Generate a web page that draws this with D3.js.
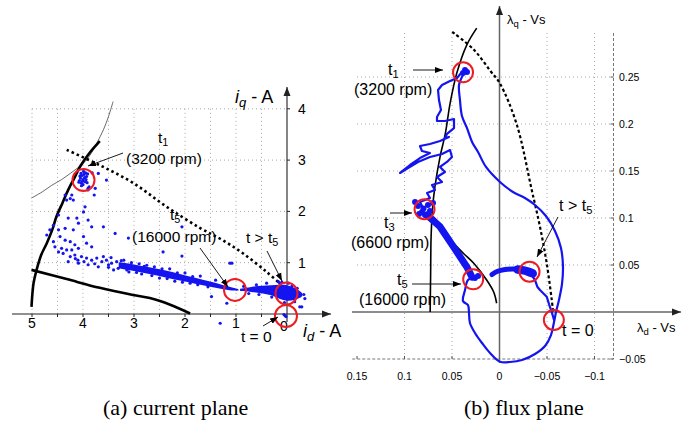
<!DOCTYPE html>
<html><head><meta charset="utf-8">
<script src="https://cdn.jsdelivr.net/npm/d3@7"></script>
<style>body{margin:0;background:#fff;} svg{display:block;font-family:"Liberation Sans",Arial,sans-serif;}</style>
</head><body><svg id="c" width="697" height="426"></svg>
<script>
// ---------------- DATA: (a) current plane ----------------
const idTicks = [5,4,3,2,1,0];
const iqTicks = [1,2,3,4];
const idGrid = [5,4.5,4,3.5,3,2.5,2,1.5,1,0.5];
// voltage limit (thick black)
const voltageL = [[5.01,0.14],[4.97,0.60],[4.91,0.86],[4.82,1.15],[4.71,1.38],[4.60,1.65],[4.52,1.90],[4.40,2.17],[4.29,2.42],[4.17,2.65],[4.06,2.87],[3.88,3.13],[3.67,3.37]];
// constant torque hyperbola (thin)
const torqueL = [[5.01,2.26],[4.80,2.38],[4.61,2.51],[4.42,2.62],[4.25,2.74],[4.10,2.85],[3.96,2.97],[3.84,3.13],[3.73,3.33],[3.60,3.59],[3.50,3.85],[3.41,4.14]];
// lower thick line
const lowerL = [[5.01,0.86],[4.32,0.68],[3.67,0.51],[3.02,0.37],[2.69,0.31],[2.29,0.18],[1.90,0.01]];
// dotted curve
const dottedL = [[4.32,3.20],[3.67,2.90],[3.01,2.55],[2.36,2.09],[1.71,1.68],[1.28,1.45],[0.86,1.18],[0.40,0.82],[0.12,0.58]];
// dense measured bands [id, iqLow, iqHigh]
const bandA = [[3.30,0.89,1.01],[3.00,0.84,0.97],[2.70,0.78,0.91],[2.40,0.72,0.86],[2.10,0.65,0.78],[1.80,0.59,0.71],[1.50,0.53,0.63],[1.25,0.48,0.56],[1.00,0.45,0.50],[0.95,0.46,0.48]];
const bandB = [[0.92,0.45,0.49],[0.70,0.43,0.53],[0.50,0.41,0.55],[0.30,0.37,0.56],[0.15,0.29,0.57],[0.00,0.25,0.57],[-0.15,0.27,0.51],[-0.25,0.31,0.45],[-0.30,0.35,0.40]];
// scattered measured points [id, iq]
const pointsL = [
 [4.02,2.70],[3.98,2.72],[3.95,2.75],[4.05,2.65],[4.00,2.62],[3.96,2.58],[4.03,2.55],[4.07,2.60],[3.93,2.68],[4.00,2.52],
 [3.97,2.66],[4.04,2.74],[3.91,2.73],[4.08,2.57],[3.99,2.78],[3.94,2.62],[4.01,2.59],[4.06,2.69],[3.92,2.56],[4.03,2.50],
 [3.82,2.75],[3.70,2.74],[3.54,2.61],[3.76,2.45],[3.90,2.45],[3.88,2.48],[3.78,2.32],[3.90,2.42],
 [4.35,2.32],[4.25,2.25],[4.19,2.22],[4.32,2.22],[4.22,2.32],[3.99,1.99],[3.96,2.09],[4.48,1.93],[4.29,1.87],[4.12,1.87],
 [4.09,1.77],[3.90,1.83],[3.83,1.70],[3.60,1.70],[4.58,1.73],[4.65,1.64],[4.48,1.64],[4.35,1.67],[4.19,1.64],[4.71,1.54],
 [4.45,1.51],[4.35,1.44],[4.25,1.41],[4.16,1.35],[3.99,1.51],[3.93,1.38],[3.83,1.31],[4.58,1.41],[4.55,1.31],[4.42,1.28],
 [4.32,1.25],[4.22,1.25],[4.09,1.28],[4.48,1.21],[4.39,1.18],[4.25,1.12],[4.16,1.15],[4.03,1.12],[3.93,1.09],[3.83,1.05],
 [3.73,1.09],[3.63,1.02],[3.54,1.05],[3.44,0.99],[3.34,1.02],[3.24,0.96],[4.29,1.02],[4.09,0.99],[3.90,0.96],[3.70,0.92],
 [3.50,0.91],[3.31,0.89],[3.14,0.86],[3.37,1.57],[3.11,1.48],[2.43,1.21],[2.06,1.70],[1.48,0.34],[1.18,0.21],[1.12,0.99],
 [1.31,-0.18],[-0.25,0.14],[-0.29,0.14],[-0.03,0.60],[0.17,0.63],[0.14,0.60],[2.06,1.13],[1.08,0.99],
 [3.60,1.12],[3.45,1.10],[3.20,1.05],[3.05,1.00],[2.90,0.98],[2.75,0.95],[2.85,0.78],[2.60,0.92],[2.50,0.70],[2.30,0.88],
 [2.20,0.64],[2.00,0.80],[1.90,0.60],[1.70,0.74],[1.55,0.53],[1.40,0.66],[3.40,0.86],[3.10,0.82],[3.50,0.96],[4.10,1.05],
 [3.98,1.02],[3.77,0.98],[0.85,0.54],[0.60,0.57],[0.40,0.60],[0.30,0.33],[0.55,0.38],[0.75,0.40],[0.10,0.62],[-0.10,0.55],
 [-0.20,0.50],[-0.33,0.38],[-0.35,0.30],[0.05,0.22],[-0.15,0.24],[4.15,1.08],[0.04,-0.03],[0.02,-0.05],[0.06,-0.01],
 [3.25,1.04],[2.95,0.81],[2.65,0.75],[2.35,0.69],[2.05,0.62],[1.75,0.57],[2.80,0.93],[2.45,0.88],[2.15,0.80],[1.85,0.73]
];
const circlesL = [[3.99,2.61],[1.02,0.47],[0.01,0.40],[0.02,-0.04]];

// ---------------- DATA: (b) flux plane ----------------
const ldTicks = [0.15,0.1,0.05,0,-0.05,-0.1];
const ldLabels = ["0.15","0.1","0.05","0","\u22120.05","\u22120.1"];
const lqTicks = [0.25,0.2,0.15,0.1,0.05,-0.05];
const lqLabels = ["0.25","0.2","0.15","0.1","0.05","\u22120.05"];
const ldGrid = [0.1,0.05,-0.05,-0.1];
const lqGrid = [0.25,0.2,0.15,0.1,0.05];
const voltageR = [[0.0730,0.000],[0.0725,0.040],[0.0720,0.080],[0.0705,0.110],[0.0680,0.133],[0.0626,0.165],[0.0570,0.190],[0.0520,0.222],[0.0450,0.254],[0.0345,0.284],[0.0240,0.302]];
const mtpaR = [[0.0697,0.1014],[0.0600,0.0900],[0.0481,0.0731],[0.0376,0.0620],[0.0271,0.0518],[0.0135,0.0340],[0.0060,0.0210],[0.0030,0.0093]];
const dottedR = [[0.0498,0.298],[0.027,0.279],[0.010,0.257],[-0.0005,0.243],[-0.018,0.200],[-0.0339,0.130],[-0.0426,0.0907],[-0.0497,0.0518],[-0.055,0.0128],[-0.0566,-0.0014]];
// measured flux trajectory, pieces
const fluxOuter = [[0.0384,0.2521],[0.0426,0.2415],[0.0416,0.2255],[0.0395,0.2085],[0.0342,0.1957],[0.0289,0.1809],[0.0226,0.1702],[0.0142,0.1543],[-0.0005,0.1383],[-0.0142,0.1277],[-0.0268,0.1213],[-0.0374,0.1138],[-0.0489,0.1021],[-0.0584,0.0862],[-0.0647,0.0681],[-0.0668,0.0489],[-0.0658,0.0298],[-0.0626,0.0128],[-0.0595,0.0000],[-0.0574,-0.0106],[-0.0542,-0.0245],[-0.0479,-0.0362],[-0.0374,-0.0447],[-0.0237,-0.0511],[-0.0111,-0.0532],[-0.0005,-0.0529],[0.0100,-0.0436],[0.0184,-0.0330],[0.0258,-0.0223],[0.0311,-0.0117],[0.0321,-0.0011],[0.0332,0.0074],[0.0384,0.0117],[0.0363,0.0234],[0.0332,0.0340],[0.0268,0.0372]];
const fluxRight = [[-0.0574,-0.0085],[-0.0549,0.0003],[-0.0524,0.0074],[-0.0497,0.0163],[-0.0426,0.0234],[-0.0398,0.0269],[-0.0374,0.0340],[-0.0332,0.0404]];
const fluxArc = [[-0.0340,0.0412],[-0.0258,0.0441],[-0.0163,0.0457],[-0.0058,0.0452],[0.0026,0.0431],[0.0079,0.0399]];
const fluxArcDense = [[-0.0350,0.0410],[-0.0300,0.0430],[-0.0240,0.0445],[-0.0190,0.0452]];
const fluxBand = [[0.0289,0.0372],[0.0345,0.0482],[0.0486,0.0695],[0.0626,0.0907],[0.0766,0.1032]];
const fluxZig = [[0.0395,0.2553],[0.0447,0.2489],[0.0521,0.2457],[0.0605,0.2415],[0.0647,0.2362],[0.0637,0.2255],[0.0616,0.2149],[0.0658,0.2074],[0.0658,0.2032],[0.0574,0.2032],[0.0479,0.2053],[0.0479,0.1957],[0.0553,0.1894],[0.0574,0.1851],[0.0532,0.1862],[0.0626,0.1819],[0.0732,0.1787],[0.0837,0.1766],[0.0816,0.1713],[0.0732,0.1691],[0.0837,0.1638],[0.0942,0.1564],[0.1047,0.1479],[0.0963,0.1532],[0.0858,0.1596],[0.0732,0.1649],[0.0605,0.1681],[0.0521,0.1723],[0.0500,0.1649],[0.0553,0.1596],[0.0626,0.1543],[0.0574,0.1489],[0.0658,0.1436],[0.0605,0.1383],[0.0711,0.1351],[0.0679,0.1298],[0.0763,0.1266],[0.0732,0.1213],[0.0837,0.1170],[0.0805,0.1106]];
const fluxBlobs = [[0.0858,0.1128],[0.0753,0.1138],[0.0816,0.1064],[0.0732,0.1074],[0.0889,0.1170],[0.0700,0.1160],[0.0784,0.1032],[0.0847,0.1043],[0.0800,0.1100],[0.0363,0.2574],[0.0342,0.2553],[0.0384,0.2543],[0.0258,0.0362],[0.0226,0.0383]];
const circlesR = [[0.0384,0.255],[0.0789,0.1093],[0.0277,0.0348],[-0.0316,0.0429],[-0.0572,-0.0085]];

// ---------------- DRAW ----------------
const svg = d3.select("#c");
const BLUE = "#1414f0", RED = "#ec1c24", GRID = "#a8a8a8";
const defs = svg.append("defs");
defs.append("marker").attr("id","ah").attr("viewBox","0 -4 8 8").attr("refX",8).attr("refY",0)
  .attr("markerWidth",8).attr("markerHeight",8).attr("markerUnits","userSpaceOnUse").attr("orient","auto")
  .append("path").attr("d","M0,-3L8,0L0,3Z").attr("fill","#000");
defs.append("marker").attr("id","axh").attr("viewBox","0 -4 9 8").attr("refX",9).attr("refY",0)
  .attr("markerWidth",9).attr("markerHeight",8).attr("markerUnits","userSpaceOnUse").attr("orient","auto")
  .append("path").attr("d","M0,-3.5L9,0L0,3.5Z").attr("fill","#222");

// ---- left panel ----
const xL = d3.scaleLinear().domain([5,0]).range([32,287]);
const yL = d3.scaleLinear().domain([0,4]).range([314,108.8]);
const gL = svg.append("g");
gL.selectAll(".vg").data(idGrid).join("line").attr("x1",d=>xL(d)).attr("x2",d=>xL(d)).attr("y1",yL(4)).attr("y2",yL(0))
  .attr("stroke",GRID).attr("stroke-width",1).attr("stroke-dasharray","1,3");
gL.selectAll(".hg").data(iqTicks).join("line").attr("x1",xL(5)).attr("x2",xL(0)).attr("y1",d=>yL(d)).attr("y2",d=>yL(d))
  .attr("stroke",GRID).attr("stroke-width",1).attr("stroke-dasharray","1,3");
// axes
gL.append("line").attr("x1",12).attr("x2",331).attr("y1",yL(0)).attr("y2",yL(0)).attr("stroke","#222").attr("stroke-width",1.1).attr("marker-end","url(#axh)");
gL.append("line").attr("x1",xL(0)).attr("x2",xL(0)).attr("y1",322).attr("y2",87).attr("stroke","#222").attr("stroke-width",1.1).attr("marker-end","url(#axh)");
gL.selectAll(".xt").data(idGrid).join("line").attr("x1",d=>xL(d)).attr("x2",d=>xL(d)).attr("y1",yL(0)).attr("y2",yL(0)+3).attr("stroke","#222");
gL.selectAll(".yt").data(iqTicks).join("line").attr("x1",xL(0)).attr("x2",xL(0)+3).attr("y1",d=>yL(d)).attr("y2",d=>yL(d)).attr("stroke","#222");
gL.selectAll(".xl").data(idTicks).join("text").attr("x",d=>xL(d)-(d===0?3:0)).attr("y",d=>d===0?331:328)
  .attr("text-anchor","middle").attr("font-size",14).text(d=>d);
gL.selectAll(".yl").data(iqTicks).join("text").attr("x",xL(0)+15).attr("y",d=>yL(d)+5)
  .attr("text-anchor","middle").attr("font-size",14).text(d=>d);
// axis labels
let t = gL.append("text").attr("x",235).attr("y",103).attr("font-size",18);
t.append("tspan").attr("font-style","italic").text("i");
t.append("tspan").attr("font-style","italic").attr("font-size",13).attr("dy",4).text("q");
t.append("tspan").attr("dy",-4).text(" - A");
t = gL.append("text").attr("x",303).attr("y",337).attr("font-size",18);
t.append("tspan").attr("font-style","italic").text("i");
t.append("tspan").attr("font-style","italic").attr("font-size",13).attr("dy",4).text("d");
t.append("tspan").attr("dy",-4).text(" - A");

const lineL = d3.line().x(d=>xL(d[0])).y(d=>yL(d[1])).curve(d3.curveCatmullRom);
gL.append("path").attr("d",lineL(torqueL)).attr("fill","none").attr("stroke","#444").attr("stroke-width",0.8);
gL.append("path").attr("d",lineL(voltageL)).attr("fill","none").attr("stroke","#000").attr("stroke-width",2.6);
gL.append("path").attr("d",lineL(lowerL)).attr("fill","none").attr("stroke","#000").attr("stroke-width",2.6);
gL.append("path").attr("d",lineL(dottedL)).attr("fill","none").attr("stroke","#000").attr("stroke-width",2.6).attr("stroke-dasharray","2.5,3");
const areaL = d3.area().x(d=>xL(d[0])).y0(d=>yL(d[1])).y1(d=>yL(d[2])).curve(d3.curveBasis);
gL.append("path").attr("d",areaL(bandA)).attr("fill",BLUE);
gL.append("path").attr("d",areaL(bandB)).attr("fill",BLUE);
gL.selectAll(".pt").data(pointsL).join("circle").attr("cx",d=>xL(d[0])).attr("cy",d=>yL(d[1])).attr("r",1.6).attr("fill",BLUE);
gL.selectAll(".rc").data(circlesL).join("circle").attr("cx",d=>xL(d[0])).attr("cy",d=>yL(d[1])).attr("r",11)
  .attr("fill","none").attr("stroke",RED).attr("stroke-width",2);

// ---- right panel ----
const xR = d3.scaleLinear().domain([0.15,-0.12]).range([357,613.5]);
const yR = d3.scaleLinear().domain([-0.05,0.3]).range([359,30]);
const gR = svg.append("g");
gR.selectAll(".vg").data(ldGrid).join("line").attr("x1",d=>xR(d)).attr("x2",d=>xR(d)).attr("y1",33).attr("y2",yR(-0.05))
  .attr("stroke",GRID).attr("stroke-dasharray","1,3");
gR.selectAll(".hg").data(lqGrid).join("line").attr("x1",xR(0.15)).attr("x2",xR(-0.12)).attr("y1",d=>yR(d)).attr("y2",d=>yR(d))
  .attr("stroke",GRID).attr("stroke-dasharray","1,3");
gR.append("line").attr("x1",xR(-0.12)).attr("x2",xR(-0.12)).attr("y1",33).attr("y2",yR(-0.05)).attr("stroke","#777").attr("stroke-dasharray","3,2");
gR.append("line").attr("x1",xR(0.155)).attr("x2",xR(-0.12)).attr("y1",yR(-0.05)).attr("y2",yR(-0.05)).attr("stroke","#777").attr("stroke-dasharray","3,2");
gR.selectAll(".bt").data(ldTicks).join("line").attr("x1",d=>xR(d)).attr("x2",d=>xR(d)).attr("y1",yR(-0.05)).attr("y2",yR(-0.05)-3).attr("stroke","#555");
gR.selectAll(".rt").data(lqTicks).join("line").attr("x1",xR(-0.12)).attr("x2",xR(-0.12)-3).attr("y1",d=>yR(d)).attr("y2",d=>yR(d)).attr("stroke","#555");
gR.selectAll(".bl").data(ldTicks).join("text").attr("x",d=>xR(d)).attr("y",380).attr("text-anchor","middle").attr("font-size",10.5)
  .text((d,i)=>ldLabels[i]);
gR.selectAll(".rl").data(lqTicks).join("text").attr("x",619).attr("y",d=>yR(d)+4).attr("font-size",10.5).text((d,i)=>lqLabels[i]);
// axes
gR.append("line").attr("x1",352).attr("x2",681).attr("y1",yR(0)).attr("y2",yR(0)).attr("stroke","#666").attr("stroke-width",1.5).attr("marker-end","url(#axh)");
gR.append("line").attr("x1",xR(0)).attr("x2",xR(0)).attr("y1",yR(-0.054)).attr("y2",6).attr("stroke","#666").attr("stroke-width",1.5).attr("marker-end","url(#axh)");
t = gR.append("text").attr("x",507).attr("y",24).attr("font-size",13);
t.append("tspan").text("\u03bb");
t.append("tspan").attr("font-size",9.5).attr("dy",3).text("q");
t.append("tspan").attr("dy",-3).text(" - Vs");
t = gR.append("text").attr("x",637).attr("y",332).attr("font-size",13);
t.append("tspan").text("\u03bb");
t.append("tspan").attr("font-size",9.5).attr("dy",3).text("d");
t.append("tspan").attr("dy",-3).text(" - Vs");

const lineRc = d3.line().x(d=>xR(d[0])).y(d=>yR(d[1])).curve(d3.curveCatmullRom);
const lineR = d3.line().x(d=>xR(d[0])).y(d=>yR(d[1]));
gR.append("path").attr("d",lineRc(voltageR)).attr("fill","none").attr("stroke","#000").attr("stroke-width",1.6);
gR.append("path").attr("d",lineRc(mtpaR)).attr("fill","none").attr("stroke","#000").attr("stroke-width",1.6);
gR.append("path").attr("d",lineRc(dottedR)).attr("fill","none").attr("stroke","#000").attr("stroke-width",2.2).attr("stroke-dasharray","3,2.5");
const blueStyle = p => p.attr("fill","none").attr("stroke",BLUE).attr("stroke-linejoin","round").attr("stroke-linecap","round");
blueStyle(gR.append("path").attr("d",lineRc(fluxOuter))).attr("stroke-width",2.2);
blueStyle(gR.append("path").attr("d",lineR(fluxRight))).attr("stroke-width",2.2);
blueStyle(gR.append("path").attr("d",lineRc(fluxArc))).attr("stroke-width",5);
blueStyle(gR.append("path").attr("d",lineRc(fluxArcDense))).attr("stroke-width",8.5);
blueStyle(gR.append("path").attr("d",lineR(fluxBand))).attr("stroke-width",7);
blueStyle(gR.append("path").attr("d",lineR(fluxZig))).attr("stroke-width",2.2);
gR.selectAll(".bb").data(fluxBlobs).join("circle").attr("cx",d=>xR(d[0])).attr("cy",d=>yR(d[1])).attr("r",3).attr("fill",BLUE);
gR.selectAll(".rc").data(circlesR).join("circle").attr("cx",d=>xR(d[0])).attr("cy",d=>yR(d[1])).attr("r",10)
  .attr("fill","none").attr("stroke",RED).attr("stroke-width",2);

// ---- annotations ----
function label(g, x, y, main, sub, fs){
  const tx = g.append("text").attr("x",x).attr("y",y).attr("font-size",fs);
  tx.append("tspan").text(main);
  if(sub){ tx.append("tspan").attr("font-size",fs*0.7).attr("dy",fs*0.2).text(sub); }
  return tx;
}
function arrow(x1,y1,x2,y2){
  svg.append("line").attr("x1",x1).attr("y1",y1).attr("x2",x2).attr("y2",y2).attr("stroke","#000").attr("stroke-width",0.9).attr("marker-end","url(#ah)");
}
// left
label(svg,158,143,"t","1",15.5);
svg.append("text").attr("x",126).attr("y",164).attr("font-size",15.5).text("(3200 rpm)");
arrow(123,153,88,166);
label(svg,170,220,"t","5",15.5);
svg.append("text").attr("x",132).attr("y",242).attr("font-size",15.5).text("(16000 rpm)");
arrow(200,248,228,287);
label(svg,246,243,"t > t","5",15.5);
arrow(267,251,282,281);
svg.append("text").attr("x",241).attr("y",342).attr("font-size",15.5).text("t = 0");
arrow(263,326,278,317);
// right
label(svg,388,75,"t","1",16);
svg.append("text").attr("x",354).attr("y",95).attr("font-size",16).text("(3200 rpm)");
arrow(413,70,443,70);
label(svg,384,228,"t","3",16);
svg.append("text").attr("x",351).attr("y",248).attr("font-size",16).text("(6600 rpm)");
arrow(390,213,412,213);
label(svg,397,285,"t","5",16);
svg.append("text").attr("x",359).attr("y",305).attr("font-size",16).text("(16000 rpm)");
arrow(412,284,461,284);
label(svg,559,211,"t > t","5",16);
arrow(558,217,537,257);
svg.append("text").attr("x",562).attr("y",336).attr("font-size",16).text("t = 0");
// captions
svg.append("text").attr("x",103).attr("y",415).attr("font-family","'Liberation Serif','Times New Roman',serif").attr("font-size",22).text("(a) current plane");
svg.append("text").attr("x",464).attr("y",415).attr("font-family","'Liberation Serif','Times New Roman',serif").attr("font-size",22).text("(b) flux plane");
</script></body></html>
